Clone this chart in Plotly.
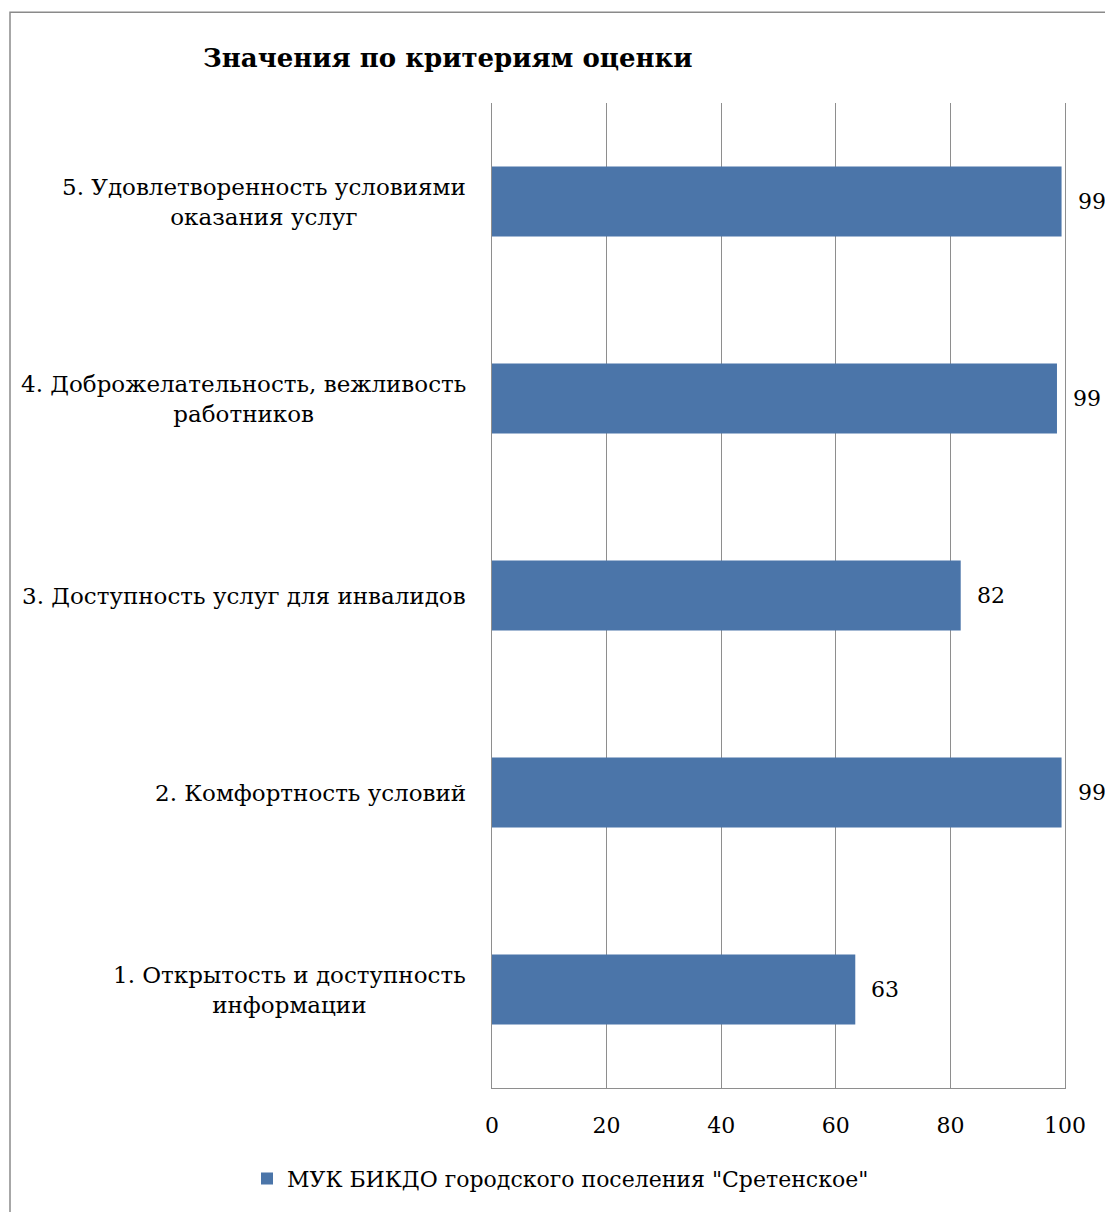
import plotly.graph_objects as go

categories = [
    "1. Открытость и доступность<br>информации",
    "2. Комфортность условий",
    "3. Доступность услуг для инвалидов",
    "4. Доброжелательность, вежливость<br>работников",
    "5. Удовлетворенность условиями<br>оказания услуг",
]
values = [63.4, 99.4, 81.8, 98.6, 99.4]
series_name = 'МУК БИКДО городского поселения "Сретенское"'
title_text = "Значения по критериям оценки"
x_ticks = [0, 20, 40, 60, 80, 100]

FONT = "DejaVu Serif"
BAR = "#4B75A9"
GRID = "#8E8E8E"

W, H = 1105, 1212
L, R, T, B = 492, 40, 103, 120
pw = W - L - R
ph = H - T - B

fig = go.Figure()
fig.add_trace(go.Bar(
    y=categories, x=values, orientation="h", name=series_name,
    marker=dict(color=BAR, line=dict(width=0)),
    showlegend=True,
))

ann = []
for c, v in zip(categories, values):
    ann.append(dict(x=0, y=c, xref="x", yref="y", text=c, showarrow=False,
                    xanchor="right", yanchor="middle", align="center", xshift=-24,
                    font=dict(family=FONT, size=23, color="#000")))
    ann.append(dict(x=v, y=c, xref="x", yref="y", text=f"{v:.0f}", showarrow=False,
                    xanchor="left", yanchor="middle", xshift=14,
                    font=dict(family=FONT, size=22, color="#000")))

def px_x(p):
    return (p - L) / pw

def px_y(p):
    return (H - B - p) / ph

fig.update_layout(
    width=W, height=H, autosize=False,
    margin=dict(l=L, r=R, t=T, b=B, pad=0),
    paper_bgcolor="white", plot_bgcolor="white",
    bargap=0.645,
    title=dict(text=title_text, x=203 / W, xanchor="left", xref="container",
               y=1 - 58 / H, yanchor="middle", yref="container",
               font=dict(family=FONT, size=26, color="#000", weight="bold")),
    xaxis=dict(range=[0, 100], tickvals=x_ticks, showgrid=True, gridcolor=GRID, gridwidth=1,
               showline=True, linecolor=GRID, linewidth=1, mirror=False, zeroline=False,
               ticks="", ticklabelstandoff=18,
               tickfont=dict(family=FONT, size=22, color="#000"), fixedrange=True),
    yaxis=dict(showticklabels=False, showgrid=False, showline=True, linecolor=GRID,
               linewidth=1, mirror=True, ticks="", zeroline=False, fixedrange=True),
    legend=dict(orientation="h", x=px_x(247), xanchor="left", y=px_y(1183), yanchor="middle",
                font=dict(family=FONT, size=22, color="#000"), bgcolor="rgba(0,0,0,0)"),
    annotations=ann,
    shapes=[dict(type="rect", xref="paper", yref="paper",
                 x0=px_x(10), x1=px_x(1200), y0=px_y(12), y1=px_y(1300),
                 line=dict(color="#8A8A8A", width=1.5), fillcolor="rgba(0,0,0,0)", layer="below")],
)

fig.write_html("out.html")
